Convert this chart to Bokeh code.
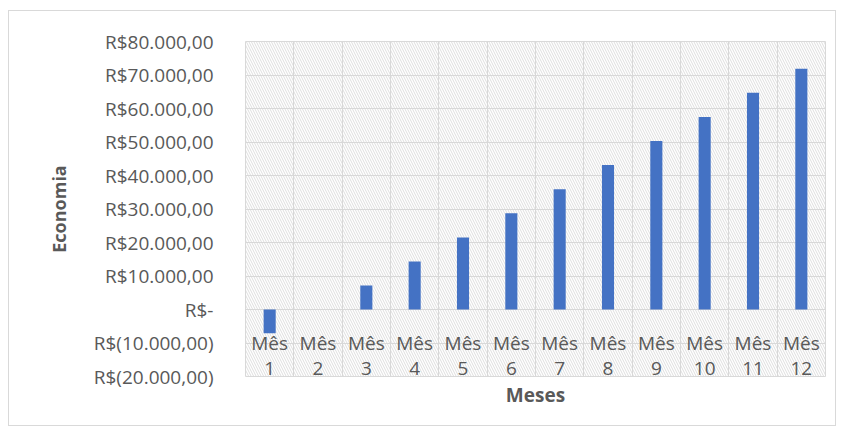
from bokeh.plotting import figure
from bokeh.models import FixedTicker, BoxAnnotation, ColumnDataSource, Range1d
from bokeh.core.properties import value
from bokeh.embed import file_html
from bokeh.resources import INLINE

categories = ["Mês 1", "Mês 2", "Mês 3", "Mês 4", "Mês 5", "Mês 6",
              "Mês 7", "Mês 8", "Mês 9", "Mês 10", "Mês 11", "Mês 12"]
economia = [-7100, 0, 7200, 14300, 21500, 28700, 35900, 43100, 50300, 57500, 64700, 71900]
y_ticks = [-20000, -10000, 0, 10000, 20000, 30000, 40000, 50000, 60000, 70000, 80000]
y_tick_labels = ["R$(20.000,00)", "R$(10.000,00)", "R$-", "R$10.000,00", "R$20.000,00",
                 "R$30.000,00", "R$40.000,00", "R$50.000,00", "R$60.000,00",
                 "R$70.000,00", "R$80.000,00"]

FONT = "Open Sans"
GRAY = "#595959"
FS = "19px"

xs = list(range(1, len(categories) + 1))
src = ColumnDataSource(dict(
    x=xs, y=economia,
    word=[c.split(" ")[0] for c in categories],
    num=[c.split(" ")[1] for c in categories],
))

p = figure(width=828, height=416, output_backend="svg", toolbar_location=None,
           x_range=Range1d(0.5, 12.5), y_range=Range1d(-20000, 80000),
           min_border_left=236, min_border_right=12, min_border_top=30, min_border_bottom=51)
p.margin = (10, 0, 0, 8)
p.styles = {"border": "1px solid #d9d9d9"}
p.outline_line_color = "#d9d9d9"
p.background_fill_color = "white"
p.border_fill_color = "white"

p.add_layout(BoxAnnotation(fill_alpha=0, line_alpha=0, hatch_pattern="\\",
                           hatch_color="#d6d6d6", hatch_scale=5, hatch_weight=0.8,
                           level="underlay"))

p.vbar(x="x", top="y", bottom=0, width=0.25, source=src, fill_color="#4472C4", line_color=None)

p.text(x="x", y=-10000, text="word", source=src, text_align="center", text_baseline="middle",
       text_font=value(FONT), text_font_size=FS, text_color=GRAY)
p.text(x="x", y=-17500, text="num", source=src, text_align="center", text_baseline="middle",
       text_font=value(FONT), text_font_size=FS, text_color=GRAY)

p.yaxis.ticker = FixedTicker(ticks=y_ticks)
p.yaxis.major_label_overrides = {t: l for t, l in zip(y_ticks, y_tick_labels)}
p.yaxis.major_label_text_font = FONT
p.yaxis.major_label_text_font_size = FS
p.yaxis.major_label_text_color = GRAY
p.yaxis.major_label_standoff = 26
p.yaxis.axis_line_color = None
p.yaxis.major_tick_line_color = None
p.yaxis.minor_tick_line_color = None
p.yaxis.axis_label = "Economia"
p.yaxis.axis_label_text_font = FONT
p.yaxis.axis_label_text_font_style = "bold"
p.yaxis.axis_label_text_font_size = "18px"
p.yaxis.axis_label_text_color = GRAY
p.yaxis.axis_label_standoff = 20

p.xaxis.ticker = FixedTicker(ticks=[])
p.xaxis.axis_line_color = None
p.xaxis.major_tick_line_color = None
p.xaxis.minor_tick_line_color = None
p.xaxis.axis_label = "Meses"
p.xaxis.axis_label_text_font = FONT
p.xaxis.axis_label_text_font_style = "bold"
p.xaxis.axis_label_text_font_size = FS
p.xaxis.axis_label_text_color = GRAY
p.xaxis.axis_label_standoff = 5

p.ygrid.ticker = FixedTicker(ticks=y_ticks)
p.ygrid.grid_line_color = "#d9d9d9"
p.xgrid.ticker = FixedTicker(ticks=[x + 0.5 for x in xs[:-1]])
p.xgrid.grid_line_color = "#d9d9d9"

open("out.html", "w").write(file_html(p, INLINE))
